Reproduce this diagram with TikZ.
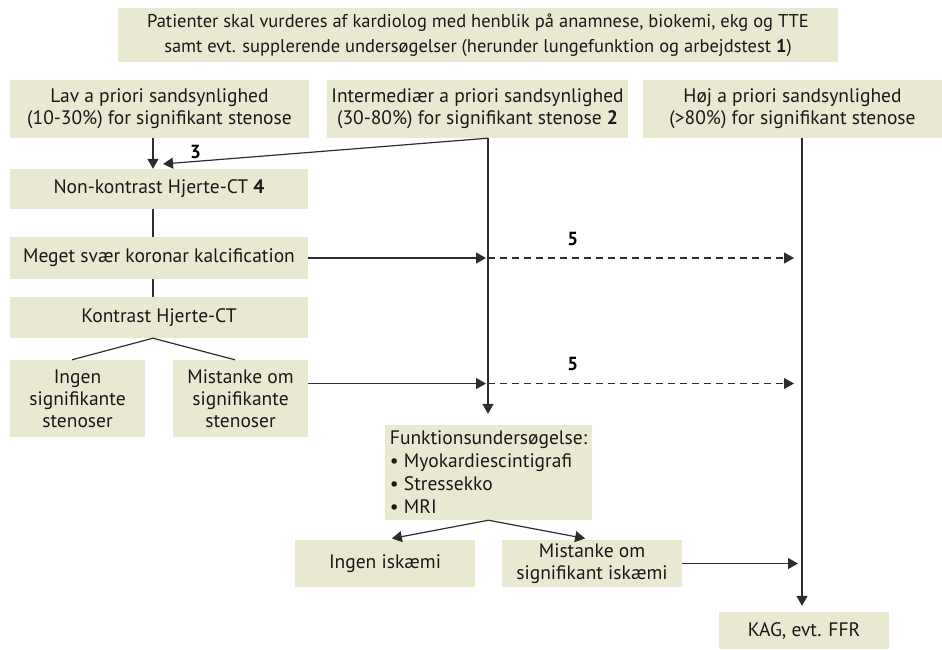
\documentclass[tikz,border=0pt]{standalone}
\usepackage{fontspec}
\setmainfont{PT Sans}
\usetikzlibrary{arrows.meta}

\definecolor{boxfill}{RGB}{233,232,208}
\definecolor{linegray}{RGB}{45,45,45}

\tikzset{
  box/.style={fill=boxfill, inner sep=0pt, align=center, text=black!90,
    font=\fontsize{19.5}{22}\selectfont},
  conn/.style={draw=linegray, line width=1.2pt},
  arr/.style={conn, -{Triangle[length=10pt,width=11pt]}},
  dasharr/.style={arr, dash pattern=on 7pt off 5pt},
  num/.style={font=\fontsize{19}{22}\selectfont\bfseries, inner sep=2pt},
}

\begin{document}
\begin{tikzpicture}[x=1pt, y=-1pt]
\useasboundingbox (0,0) rectangle (942,649);

% boxes
\node[box, minimum width=720, minimum height=54, font=\fontsize{18.5}{25}\selectfont] (patient) at (478,35)
  {Patienter skal vurderes af kardiolog med henblik på anamnese, biokemi, ekg og TTE\\
   samt evt. supplerende undersøgelser (herunder lungefunktion og arbejdstest \textbf{1})};

\node[box, minimum width=299, minimum height=58] (lav) at (159.5,109)
  {Lav a priori sandsynlighed\\(10-30\%) for signifikant stenose};
\node[box, minimum width=301, minimum height=58] (inter) at (477.5,109)
  {Intermediær a priori sandsynlighed\\(30-80\%) for signifikant stenose \textbf{2}};
\node[box, minimum width=299, minimum height=58] (hoej) at (792.5,109)
  {Høj a priori sandsynlighed\\(>80\%) for signifikant stenose};

\node[box, minimum width=298, minimum height=40] (nonkontrast) at (159,189) {Non-kontrast Hjerte-CT \textbf{4}};
\node[box, minimum width=298, minimum height=42] (kalk) at (159,258) {Meget svær koronar kalcification};
\node[box, minimum width=298, minimum height=41] (kontrast) at (159,317.5) {Kontrast Hjerte-CT};

\node[box, minimum width=135, minimum height=77] (ingensten) at (77.5,398.5) {Ingen\\signifikante\\stenoser};
\node[box, minimum width=135, minimum height=77] (miststen) at (240.5,398.5) {Mistanke om\\signifikante\\stenoser};

\node[box, minimum width=207, minimum height=95, align=left, font=\fontsize{19.5}{23}\selectfont] (funktion) at (488.5,472.5)
  {Funktionsundersøgelse:\\• Myokardiescintigrafi\\• Stressekko\\• MRI};

\node[box, minimum width=180, minimum height=47] (ingenisk) at (385,563.5) {Ingen iskæmi};
\node[box, minimum width=180, minimum height=47] (mistisk) at (592,563.5) {Mistanke om\\signifikant iskæmi};
\node[box, minimum width=170, minimum height=37] (kag) at (804,630.5) {KAG, evt. FFR};

% the three vertical lanes
\coordinate (venstre) at (153,0);
\coordinate (midt) at (488,0);
\coordinate (hoejre) at (802,0);
\coordinate (ct3) at (163,164);

% left lane
\draw[arr] (lav.south -| venstre) -- (nonkontrast.north -| venstre);
\draw[conn] (nonkontrast.south -| venstre) -- (kalk.north -| venstre);
\draw[conn] (kalk.south -| venstre) -- (kontrast.north -| venstre);
\draw[conn] ([xshift=-5.5pt]ingensten.north) -- (kontrast.south -| venstre) -- ([xshift=-5.5pt]miststen.north);

% middle lane
\draw[arr] (inter.south -| midt) -- node[num, above, pos=0.9] {3} (ct3);
\draw[arr, shorten >=11pt] (inter.south -| midt) -- (funktion.north -| midt);
\draw[arr, shorten >=2pt] (kalk.east) -- (kalk.east -| midt);
\draw[dasharr, shorten >=8pt] (kalk.east -| midt) -- node[num, above=10pt, pos=0.27] {5} (kalk.east -| hoejre);
\draw[arr, shorten >=2pt] ([yshift=15pt]miststen.east) -- ([yshift=15pt]miststen.east -| midt);
\draw[dasharr, shorten >=8pt] ([yshift=15pt]miststen.east -| midt) -- node[num, above=10pt, pos=0.27] {5} ([yshift=15pt]miststen.east -| hoejre);
\draw[arr, shorten >=7pt] (funktion.south) -- (ingenisk.north);
\draw[arr, shorten >=7pt] (funktion.south) -- (mistisk.north);

% right lane
\draw[arr, shorten >=6pt] (hoej.south -| hoejre) -- (kag.north -| hoejre);
\draw[arr, shorten >=4pt] (mistisk.east) -- (mistisk.east -| hoejre);

\end{tikzpicture}
\end{document}
